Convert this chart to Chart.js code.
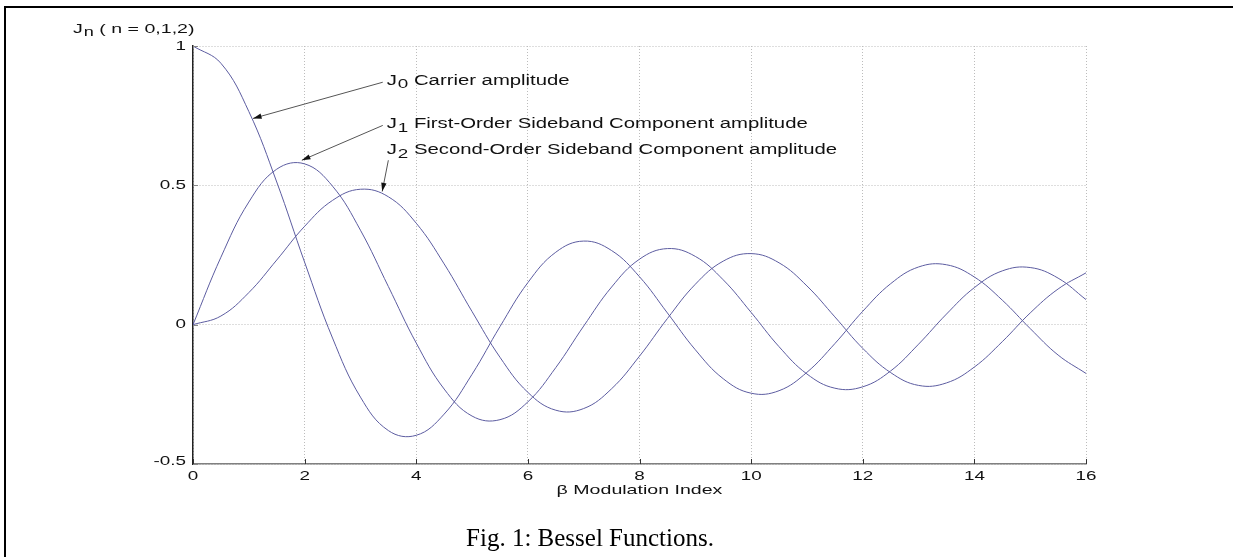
<!DOCTYPE html>
<html>
<head>
<meta charset="utf-8">
<script src="https://cdn.jsdelivr.net/npm/chart.js@4"></script>
<style>
  body { margin: 0; background: #fff; }
  #wrap { width: 1233px; height: 557px; position: relative; }
</style>
</head>
<body>
<div id="wrap"><canvas id="chart"></canvas></div>
<script>
// beta (modulation index), read every 0.5
const beta = [0, 0.5, 1, 1.5, 2, 2.5, 3, 3.5, 4, 4.5, 5, 5.5, 6, 6.5, 7, 7.5, 8,
  8.5, 9, 9.5, 10, 10.5, 11, 11.5, 12, 12.5, 13, 13.5, 14, 14.5, 15, 15.5, 16];
const j0Values = [1, 0.938, 0.765, 0.512, 0.224, -0.048, -0.260, -0.380, -0.397, -0.321, -0.178,
  -0.007, 0.151, 0.260, 0.300, 0.266, 0.172, 0.042, -0.090, -0.194, -0.246, -0.237, -0.171,
  -0.068, 0.048, 0.147, 0.207, 0.215, 0.171, 0.088, -0.014, -0.109, -0.175];
const j1Values = [0, 0.242, 0.440, 0.558, 0.577, 0.497, 0.339, 0.137, -0.066, -0.231, -0.328,
  -0.341, -0.277, -0.154, -0.005, 0.135, 0.235, 0.273, 0.245, 0.161, 0.044, -0.079, -0.177,
  -0.228, -0.223, -0.166, -0.070, 0.038, 0.133, 0.193, 0.205, 0.167, 0.090];
const j2Values = [0, 0.031, 0.115, 0.232, 0.353, 0.446, 0.486, 0.459, 0.364, 0.218, 0.047,
  -0.117, -0.243, -0.307, -0.301, -0.230, -0.113, 0.022, 0.145, 0.228, 0.255, 0.222, 0.139,
  0.028, -0.085, -0.172, -0.218, -0.209, -0.152, -0.061, 0.042, 0.128, 0.186];
const xTicks = [0, 2, 4, 6, 8, 10, 12, 14, 16];
const yTicks = [-0.5, 0, 0.5, 1];
const yTickLabels = ['-0.5', '0', '0.5', '1'];

// callouts: label anchor, arrow tail and arrow head, in data units
const callouts = [
  { sub: '0', text: 'Carrier amplitude', label: [3.47, 0.875], tail: [3.40, 0.87], head: [1.075, 0.74] },
  { sub: '1', text: 'First-Order Sideband Component amplitude', label: [3.47, 0.72], tail: [3.40, 0.715], head: [1.95, 0.59] },
  { sub: '2', text: 'Second-Order Sideband Component amplitude', label: [3.47, 0.626], tail: [3.50, 0.59], head: [3.39, 0.478] }
];

const lineColor = '#5c5ca0';
const stretch = 1.45;
const sans = '"Liberation Sans", Arial, sans-serif';

function toPoints(ys) {
  return ys.map((y, i) => ({ x: beta[i], y: y }));
}

function stretchedText(ctx, str, x, y, size, align) {
  ctx.save();
  ctx.font = size + 'px ' + sans;
  const w = ctx.measureText(str).width * stretch;
  let x0 = x;
  if (align === 'right') x0 = x - w;
  if (align === 'center') x0 = x - w / 2;
  ctx.translate(x0, y);
  ctx.scale(stretch, 1);
  ctx.textAlign = 'left';
  ctx.fillText(str, 0, 0);
  ctx.restore();
  return w;
}

function subText(ctx, main, sub, rest, x, y, size) {
  let cx = x;
  cx += stretchedText(ctx, main, cx, y, size, 'left');
  cx += stretchedText(ctx, sub, cx + 1, y + 4, size - 1, 'left') + 1;
  stretchedText(ctx, rest, cx, y, size, 'left');
}

const decor = {
  id: 'decor',
  afterDraw(chart) {
    const ctx = chart.ctx;
    const xs = chart.scales.x;
    const ys = chart.scales.y;
    const area = chart.chartArea;

    // inner tick marks
    ctx.save();
    ctx.strokeStyle = '#333';
    ctx.lineWidth = 1;
    xTicks.forEach(v => {
      const px = Math.round(xs.getPixelForValue(v)) + 0.5;
      ctx.beginPath();
      ctx.moveTo(px, area.bottom);
      ctx.lineTo(px, area.bottom - 5);
      ctx.stroke();
    });
    ctx.strokeStyle = '#888';
    yTicks.forEach(v => {
      const py = Math.round(ys.getPixelForValue(v)) + 0.5;
      ctx.beginPath();
      ctx.moveTo(area.left, py);
      ctx.lineTo(area.left + 5, py);
      ctx.stroke();
    });
    ctx.restore();

    // tick labels
    ctx.save();
    ctx.fillStyle = '#111';
    ctx.textBaseline = 'middle';
    xTicks.forEach(v => {
      stretchedText(ctx, String(v), xs.getPixelForValue(v), area.bottom + 12, 13, 'center');
    });
    yTicks.forEach((v, i) => {
      let py = ys.getPixelForValue(v);
      if (i === 0) py -= 3;
      stretchedText(ctx, yTickLabels[i], area.left - 7, py, 13, 'right');
    });

    // axis titles
    stretchedText(ctx, '\u03b2 Modulation Index', (area.left + area.right) / 2, area.bottom + 26, 13.5, 'center');
    subText(ctx, 'J', 'n', ' ( n = 0,1,2)', 73, 29, 13.5);

    // callouts
    callouts.forEach(c => {
      subText(ctx, 'J', c.sub, ' ' + c.text, xs.getPixelForValue(c.label[0]), ys.getPixelForValue(c.label[1]), 14);
      const x1 = xs.getPixelForValue(c.tail[0]), y1 = ys.getPixelForValue(c.tail[1]);
      const x2 = xs.getPixelForValue(c.head[0]), y2 = ys.getPixelForValue(c.head[1]);
      ctx.strokeStyle = '#555';
      ctx.lineWidth = 1;
      ctx.beginPath();
      ctx.moveTo(x1, y1);
      ctx.lineTo(x2, y2);
      ctx.stroke();
      const ang = Math.atan2(y2 - y1, x2 - x1);
      const len = 9, spread = 0.3;
      ctx.fillStyle = '#111';
      ctx.beginPath();
      ctx.moveTo(x2, y2);
      ctx.lineTo(x2 - len * Math.cos(ang - spread), y2 - len * Math.sin(ang - spread));
      ctx.lineTo(x2 - len * Math.cos(ang + spread), y2 - len * Math.sin(ang + spread));
      ctx.closePath();
      ctx.fill();
    });
    ctx.restore();

    // caption
    ctx.save();
    ctx.fillStyle = '#000';
    ctx.font = '25px "Liberation Serif", "Times New Roman", serif';
    ctx.textAlign = 'center';
    ctx.textBaseline = 'middle';
    ctx.fillText('Fig. 1: Bessel Functions.', 590, 539);
    ctx.restore();

    // page frame (top and left edges)
    ctx.save();
    ctx.strokeStyle = '#000';
    ctx.lineWidth = 2;
    ctx.beginPath();
    ctx.moveTo(1233, 7);
    ctx.lineTo(5, 7);
    ctx.lineTo(5, 557);
    ctx.stroke();
    ctx.restore();
  }
};

new Chart(document.getElementById('chart'), {
  type: 'line',
  data: {
    datasets: [
      { label: 'J0', data: toPoints(j0Values) },
      { label: 'J1', data: toPoints(j1Values) },
      { label: 'J2', data: toPoints(j2Values) }
    ].map(d => Object.assign(d, {
      borderColor: lineColor,
      borderWidth: 1,
      pointRadius: 0,
      tension: 0.4,
      capBezierPoints: false,
      fill: false
    }))
  },
  options: {
    responsive: true,
    maintainAspectRatio: false,
    animation: false,
    layout: { padding: { left: 193, top: 46, right: 147, bottom: 93 } },
    plugins: { legend: { display: false }, tooltip: { enabled: false } },
    scales: {
      x: {
        type: 'linear',
        min: 0,
        max: 16,
        ticks: { stepSize: 2, display: false },
        grid: { color: '#bcbcbc', lineWidth: 1, drawTicks: false },
        border: { display: true, color: '#808080', width: 1.5, dash: [1, 2] },
        afterFit: s => { s.height = 0; }
      },
      y: {
        min: -0.5,
        max: 1,
        ticks: { stepSize: 0.5, display: false },
        grid: { color: '#bcbcbc', lineWidth: 1, drawTicks: false },
        border: { display: true, color: '#222', width: 1.5, dash: [1, 2] },
        afterFit: s => { s.width = 0; }
      }
    }
  },
  plugins: [decor]
});
</script>
</body>
</html>
